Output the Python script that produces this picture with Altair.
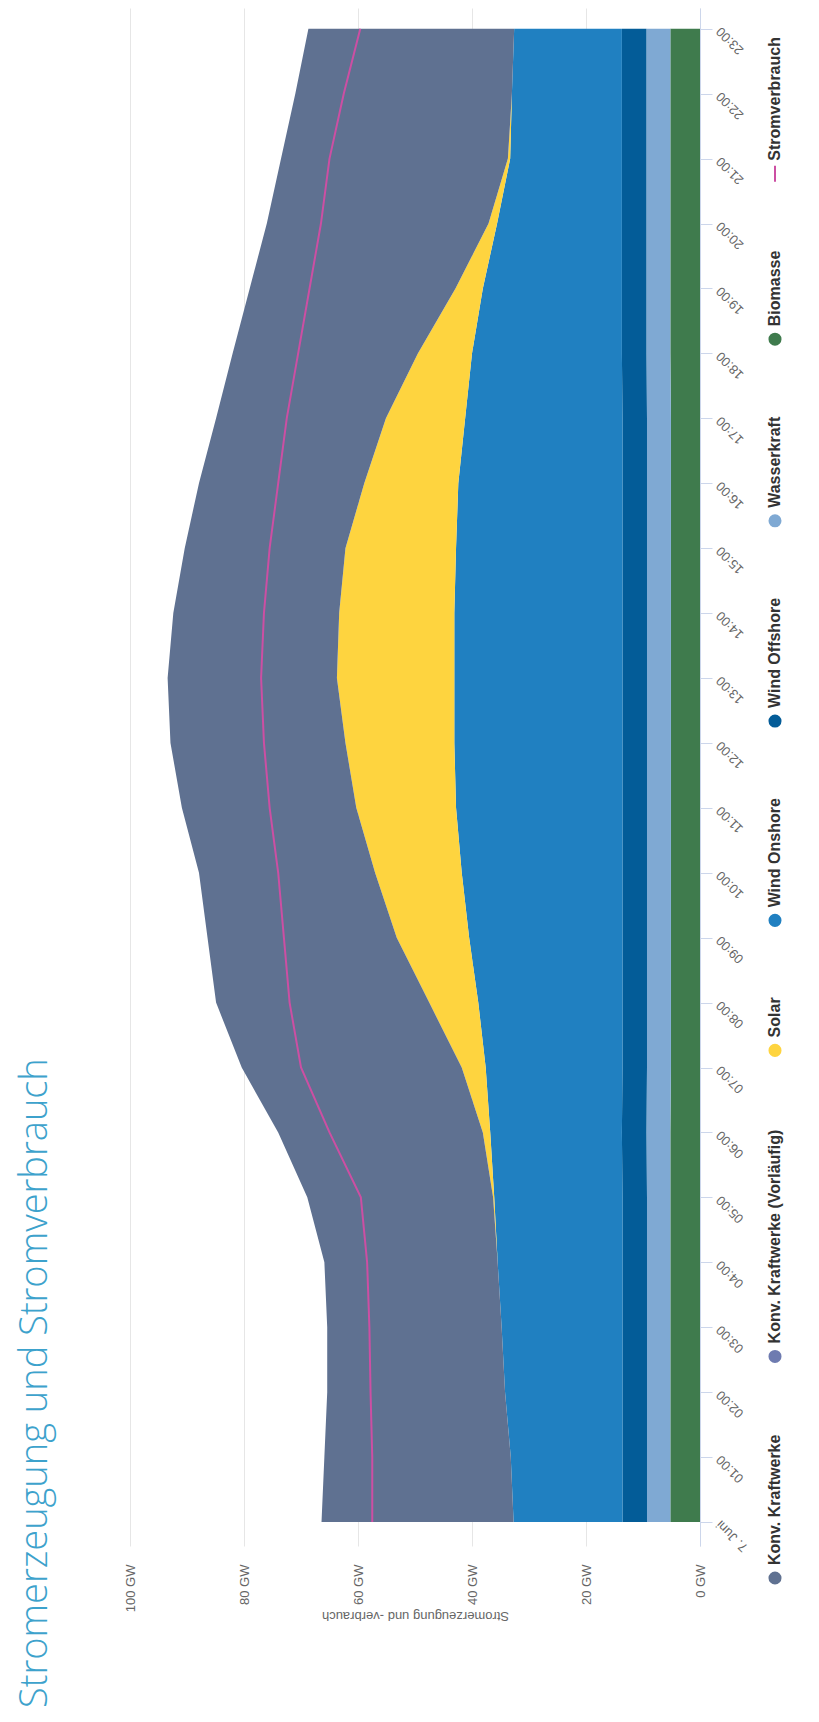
import json
import altair as alt
import pandas as pd

# ---------------- data ----------------
hours = list(range(24))
time_labels = ["7. Juni", "01:00", "02:00", "03:00", "04:00", "05:00", "06:00", "07:00",
               "08:00", "09:00", "10:00", "11:00", "12:00", "13:00", "14:00", "15:00",
               "16:00", "17:00", "18:00", "19:00", "20:00", "21:00", "22:00", "23:00"]
gw_ticks = [0, 20, 40, 60, 80, 100]

biomasse = [5.2, 5.2, 5.2, 5.2, 5.2, 5.2, 5.2, 5.1, 5.1, 5.1, 5.1, 5.1,
            5.1, 5.1, 5.1, 5.1, 5.1, 5.1, 5.2, 5.2, 5.2, 5.2, 5.2, 5.2]
wasserkraft = [4.1, 4.1, 4.1, 4.1, 4.1, 4.1, 4.2, 4.2, 4.2, 4.2, 4.2, 4.2,
               4.2, 4.2, 4.2, 4.2, 4.2, 4.2, 4.2, 4.2, 4.2, 4.2, 4.2, 4.2]
wind_offshore = [4.3, 4.3, 4.3, 4.3, 4.3, 4.3, 4.3, 4.3, 4.3, 4.3, 4.3, 4.3,
                 4.3, 4.3, 4.3, 4.3, 4.3, 4.3, 4.3, 4.3, 4.3, 4.3, 4.3, 4.3]
wind_onshore = [19.1, 19.6, 20.6, 21.2, 21.9, 22.5, 23.1, 24.0, 25.3, 26.9, 28.2, 29.2,
                29.5, 29.5, 29.5, 29.2, 28.8, 27.6, 26.3, 24.4, 21.9, 19.6, 19.3, 18.9]
solar = [0.0, 0.0, 0.0, 0.0, 0.0, 0.2, 1.3, 4.2, 8.6, 12.7, 15.2, 17.5,
         19.1, 20.6, 20.2, 19.4, 16.5, 13.9, 9.5, 4.8, 1.5, 0.4, 0.0, 0.0]
konv = [33.7, 32.7, 31.2, 30.6, 30.4, 32.6, 35.9, 38.6, 37.4, 33.2, 30.9, 30.6,
        30.7, 29.7, 29.1, 28.2, 29.0, 29.8, 32.5, 36.1, 38.9, 39.8, 38.0, 36.1]
verbrauch = [57.5, 57.5, 57.8, 58.0, 58.4, 59.5, 65.0, 70.0, 72.0, 73.0, 74.0, 75.5,
             76.5, 77.0, 76.5, 75.5, 74.0, 72.5, 70.5, 68.5, 66.5, 65.0, 62.5, 59.6]

series_names = ["Biomasse", "Wasserkraft", "Wind Offshore", "Wind Onshore", "Solar", "Konv. Kraftwerke"]
series_colors = ["#3f7b4d", "#7fa9d3", "#035c98", "#2080c1", "#fed43f", "#5f7191"]
series_values = [biomasse, wasserkraft, wind_offshore, wind_onshore, solar, konv]

legend_labels = ["Konv. Kraftwerke", "Konv. Kraftwerke (Vorläufig)", "Solar", "Wind Onshore",
                 "Wind Offshore", "Wasserkraft", "Biomasse", "Stromverbrauch"]
legend_colors = ["#5f7191", "#6e7bb0", "#fed43f", "#2080c1", "#035c98", "#7fa9d3", "#3f7b4d", "#cc4fa3"]
legend_kinds = ["circle"] * 7 + ["line"]

line_color = "#cc4fa3"
title_text = "Stromerzeugung und Stromverbrauch"
axis_title = "Stromerzeugung und -verbrauch"

# ---------------- tables ----------------
rows = []
for rank, (name, vals) in enumerate(zip(series_names, series_values)):
    for h, v in zip(hours, vals):
        rows.append({"hour": h, "value": v, "series": name, "rank": rank})
df = pd.DataFrame(rows)
df_line = pd.DataFrame({"hour": hours, "value": verbrauch})

# legend layout: flow of items along the (rotated) legend row
ARIAL_BOLD = {"K": 722, "o": 611, "n": 611, "v": 556, ".": 278, " ": 278, "r": 389, "a": 556,
              "f": 333, "t": 333, "w": 778, "e": 556, "k": 556, "(": 333, "V": 667, "l": 278,
              "ä": 556, "u": 611, "i": 278, "g": 611, ")": 333, "S": 667, "W": 944, "d": 611,
              "O": 778, "s": 556, "h": 611, "B": 722, "m": 889, "b": 611, "c": 556}
LEG_FS = 16
SYM_R = 7
SYM_GAP = 6
ITEM_GAP = 70
LEG_H = 1700
LEG_START = 130


def text_w(s):
    return sum(ARIAL_BOLD.get(ch, 600) for ch in s) * LEG_FS / 1000.0


pos = []
p = LEG_START
for lab in legend_labels:
    pos.append(p)
    p += SYM_R + SYM_GAP + text_w(lab) + ITEM_GAP + SYM_R

leg_df = pd.DataFrame({"label": legend_labels, "color": legend_colors, "kind": legend_kinds, "pos": pos})

# ---------------- main chart ----------------
PLOT_W = 570
PLOT_H = 1538
Y_MIN = -0.37
Y_MAX = 23.32

label_font = "Liberation Sans"

y_enc = alt.Y(
    "hour:Q",
    scale=alt.Scale(domain=[Y_MIN, Y_MAX], nice=False, zero=False),
    axis=alt.Axis(
        orient="right", values=hours, labelExpr=json.dumps(time_labels) + "[datum.value]",
        labelAngle=225, labelAlign="right", labelBaseline="middle", labelPadding=6,
        tickSize=12, tickColor="#ccd6eb", domainColor="#ccd6eb", labelColor="#666666",
        labelFontSize=13, labelFont=label_font, grid=False, title=None, labelOverlap=False,
        labelFlush=False,
    ),
)
x_axis = alt.Axis(
    values=gw_ticks, labelExpr="datum.value + ' GW'", labelAngle=270, labelAlign="right",
    labelBaseline="middle", labelPadding=18, ticks=False, domain=False, grid=True,
    gridColor="#e6e6e6", labelColor="#666666", labelFontSize=13, labelFont=label_font,
    labelFlush=False, title=axis_title, titleAngle=180, titleColor="#666666",
    titleFontSize=13, titleFont=label_font, titleFontWeight="normal", titlePadding=10,
)

areas = alt.Chart(df).mark_area(orient="horizontal").encode(
    y=y_enc,
    x=alt.X("value:Q", stack="zero", scale=alt.Scale(domain=[0, 100], reverse=True, nice=False), axis=x_axis),
    color=alt.Color("series:N", scale=alt.Scale(domain=series_names, range=series_colors), legend=None),
    order=alt.Order("rank:Q"),
)

line = alt.Chart(df_line).mark_line(color=line_color, strokeWidth=2).encode(
    y=alt.Y("hour:Q"),
    x=alt.X("value:Q"),
    order=alt.Order("hour:Q"),
)

main = alt.layer(areas, line).properties(width=PLOT_W, height=PLOT_H)

# ---------------- legend panel ----------------
leg_y_scale = alt.Scale(domain=[0, LEG_H], nice=False, zero=True)
leg_base = alt.Chart(leg_df)
circles = leg_base.transform_filter("datum.kind == 'circle'").mark_circle(size=170, opacity=1).encode(
    x=alt.value(12),
    y=alt.Y("pos:Q", scale=leg_y_scale, axis=None),
    color=alt.Color("color:N", scale=None, legend=None),
)
line_sym = leg_base.transform_filter("datum.kind == 'line'").transform_calculate(
    a=f"datum.pos - {SYM_R + 1}", b=f"datum.pos + {SYM_R + 1}"
).mark_rule(strokeWidth=2).encode(
    x=alt.value(12),
    y=alt.Y("a:Q", scale=leg_y_scale, axis=None),
    y2="b:Q",
    color=alt.Color("color:N", scale=None, legend=None),
)
texts = leg_base.transform_calculate(t=f"datum.pos + {SYM_R + SYM_GAP}").mark_text(
    angle=270, align="left", baseline="middle", fontSize=LEG_FS, fontWeight="bold",
    font=label_font, color="#333333",
).encode(
    x=alt.value(12),
    y=alt.Y("t:Q", scale=leg_y_scale, axis=None),
    text="label:N",
)
legend = alt.layer(circles, line_sym, texts).properties(width=24, height=LEG_H)

chart = alt.hconcat(main, legend, spacing=12).properties(
    title=alt.TitleParams(
        text=title_text, orient="left", anchor="start", font="Open Sans", fontSize=38,
        fontWeight=300, color="#3da2cc", offset=69,
    ),
    padding={"left": 8, "top": 0, "right": 0, "bottom": 0},
).configure_view(stroke=None)

chart.save("out.html", embed_options={"renderer": "svg", "actions": False})
